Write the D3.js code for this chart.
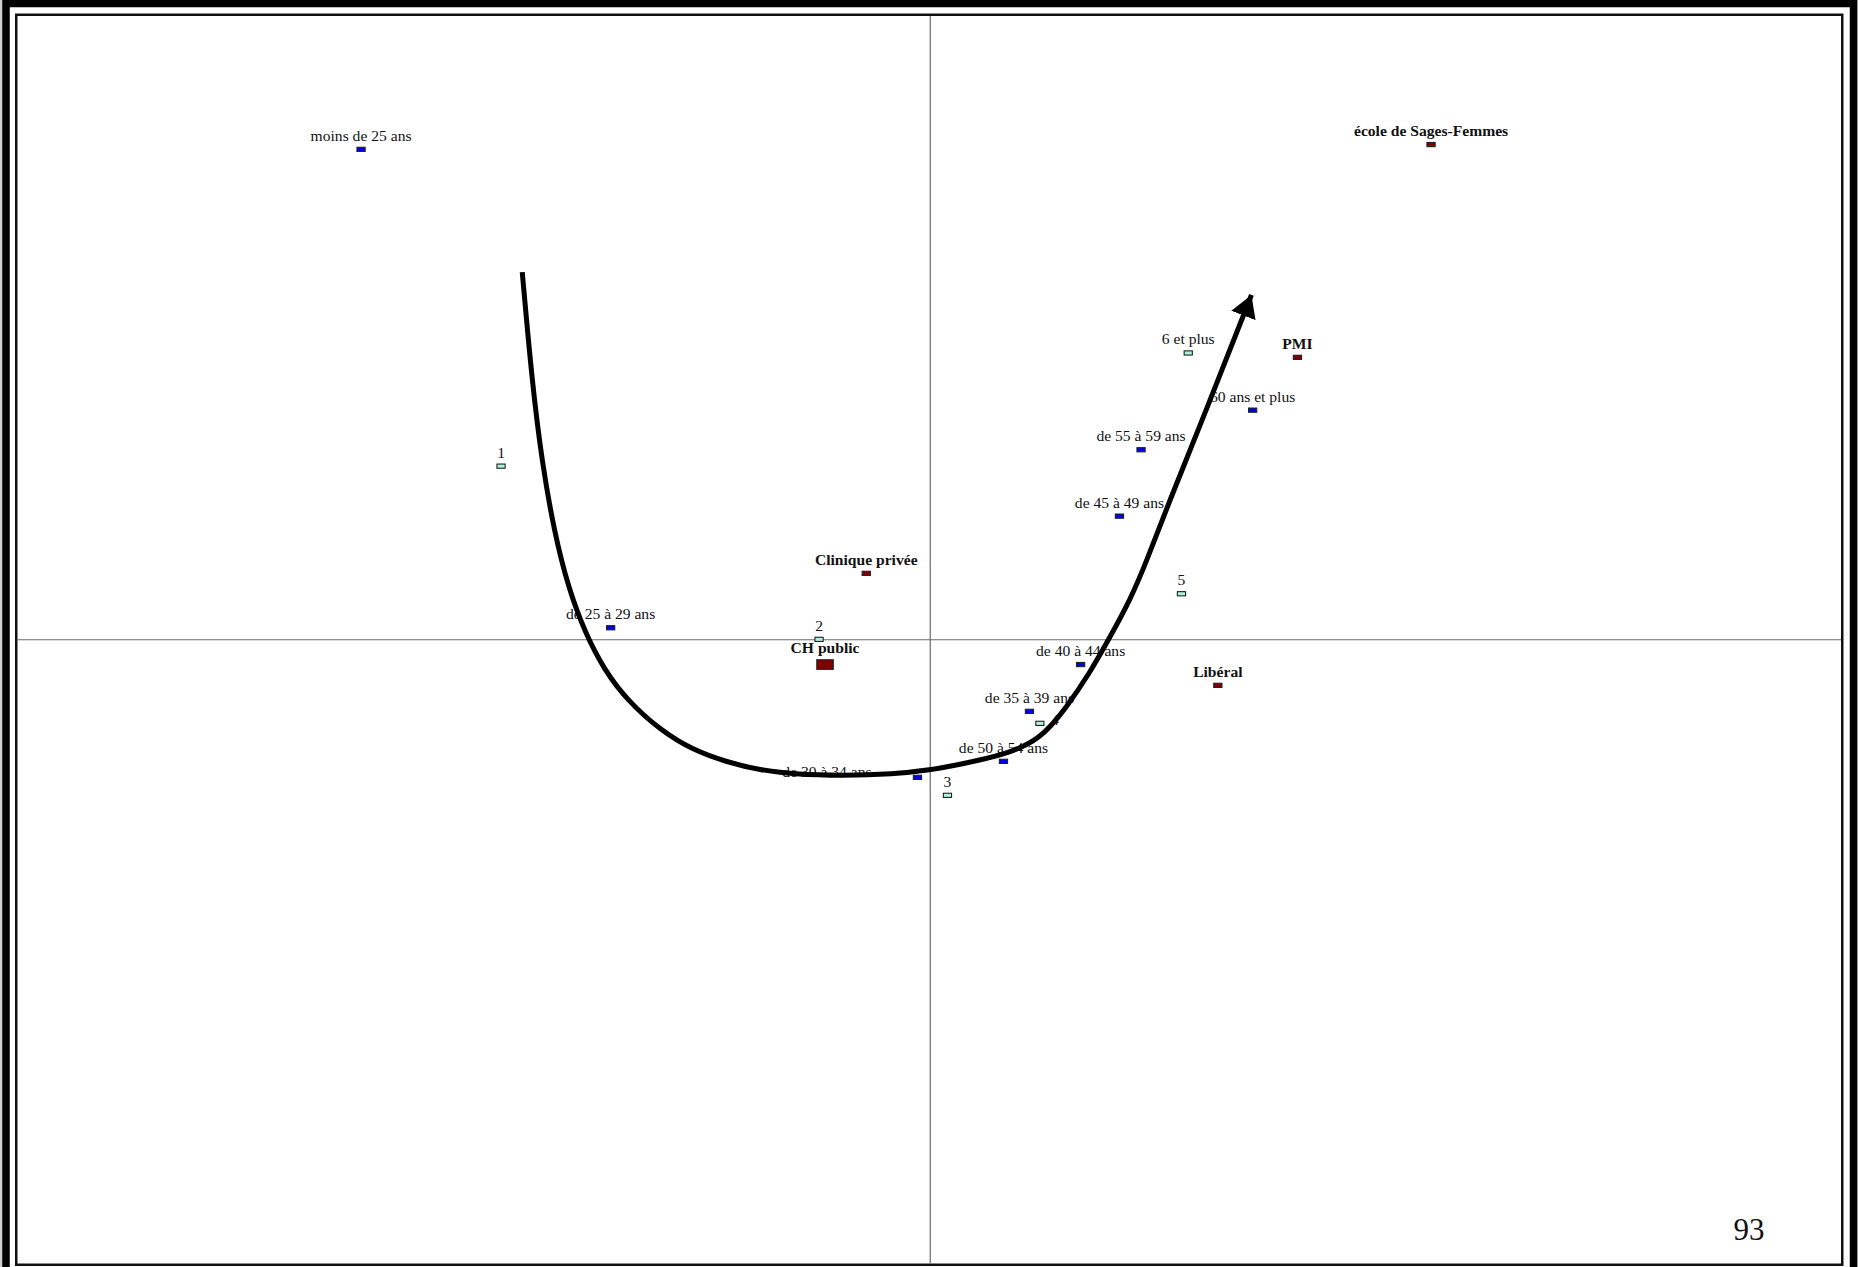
<!DOCTYPE html>
<html>
<head>
<meta charset="utf-8">
<script src="https://cdn.jsdelivr.net/npm/d3@7"></script>
<style>
  body { margin: 0; background: #cfcfcf; }
  svg { display: block; }
</style>
</head>
<body>
<script>
// factor map: first two axes of the correspondence analysis

var ageLabels = ['moins de 25 ans', 'de 25 à 29 ans', 'de 30 à 34 ans', 'de 35 à 39 ans',
  'de 40 à 44 ans', 'de 45 à 49 ans', 'de 50 à 54 ans', 'de 55 à 59 ans', '60 ans et plus'];
var ageX = [-1.423, -0.799, -0.032, 0.248, 0.376, 0.473, 0.183, 0.527, 0.806];
var ageY = [1.226, 0.030, -0.344, -0.179, -0.062, 0.309, -0.304, 0.475, 0.574];

var countLabels = ['1', '2', '3', '4', '5', '6 et plus'];
var countX = [-1.073, -0.278, 0.043, 0.274, 0.628, 0.645];
var countY = [0.434, 0.001, -0.389, -0.209, 0.115, 0.717];

var placeLabels = ['école de Sages-Femmes', 'PMI', 'Clinique privée', 'CH public', 'Libéral'];
var placeX = [1.252, 0.918, -0.160, -0.263, 0.719];
var placeY = [1.238, 0.706, 0.166, -0.062, -0.114];

// trend curve drawn over the map
var curveX = [-1.020, -0.995, -0.970, -0.940, -0.905, -0.862, -0.815, -0.758, -0.675, -0.593,
  -0.508, -0.425, -0.343, -0.218, -0.093, 0.000, 0.075, 0.183, 0.275, 0.340, 0.400, 0.445,
  0.500, 0.542, 0.592, 0.700, 0.803];
var curveY = [0.919, 0.640, 0.440, 0.270, 0.130, 0.015, -0.075, -0.151, -0.226, -0.276,
  -0.306, -0.326, -0.336, -0.340, -0.336, -0.326, -0.311, -0.289, -0.250, -0.170, -0.081, -0.001,
  0.099, 0.199, 0.332, 0.599, 0.862];

var pageNumber = '93';

var width = 1858, height = 1267;

var x = d3.scaleLinear().domain([-2.285, 2.28]).range([16.25, 1842.25]);
var y = d3.scaleLinear().domain([-1.5625, 1.5625]).range([1264.75, 14.75]);

var svg = d3.select('body').append('svg')
  .attr('width', width)
  .attr('height', height);

var x0 = x.range()[0], x1 = x.range()[1];
var y0 = y.range()[1], y1 = y.range()[0];

// page + double frame
svg.append('rect')
  .attr('x', x0 - 10.25).attr('y', y0 - 11.25)
  .attr('width', x1 - x0 + 21.5).attr('height', height + 40)
  .attr('fill', '#fff')
  .attr('stroke', '#000')
  .attr('stroke-width', 7.5);

svg.append('rect')
  .attr('x', x0).attr('y', y0)
  .attr('width', x1 - x0).attr('height', y1 - y0)
  .attr('fill', '#fff')
  .attr('stroke', '#111')
  .attr('stroke-width', 2.5);

// axes through the origin
svg.append('line')
  .attr('x1', x(0)).attr('x2', x(0))
  .attr('y1', y0 + 1.2).attr('y2', y1 - 1.2)
  .attr('stroke', '#6a6a6a').attr('stroke-width', 1.2);
svg.append('line')
  .attr('x1', x0 + 1.2).attr('x2', x1 - 1.2)
  .attr('y1', y(0)).attr('y2', y(0))
  .attr('stroke', '#6a6a6a').attr('stroke-width', 1.2);

var points = [];
ageLabels.forEach(function(d, i) {
  points.push({label: d, x: ageX[i], y: ageY[i], group: 'age'});
});
countLabels.forEach(function(d, i) {
  points.push({label: d, x: countX[i], y: countY[i], group: 'count'});
});
placeLabels.forEach(function(d, i) {
  points.push({label: d, x: placeX[i], y: placeY[i], group: 'place'});
});

var fills = {age: '#0000ee', count: '#aaf2dc', place: '#800000'};

var markW = function(d) { return d.label === 'CH public' ? 16.5 : 8.2; };
var markH = function(d) { return d.label === 'CH public' ? 9.6 : 4.2; };

// labels that were moved off their default place above the marker
var labelShift = {
  'de 30 à 34 ans': [-90.5, 8.5],
  '4': [15, 10.5]
};

svg.selectAll('rect.pt')
  .data(points)
  .enter()
  .append('rect')
  .attr('class', 'pt')
  .attr('x', function(d) { return x(d.x) - markW(d) / 2; })
  .attr('y', function(d) { return y(d.y) - markH(d) / 2; })
  .attr('width', markW)
  .attr('height', markH)
  .attr('fill', function(d) { return fills[d.group]; })
  .attr('stroke', '#222')
  .attr('stroke-width', 1.1);

svg.selectAll('text.lbl')
  .data(points)
  .enter()
  .append('text')
  .attr('class', 'lbl')
  .attr('x', function(d) {
    var s = labelShift[d.label] || [0, 0];
    return x(d.x) + s[0];
  })
  .attr('y', function(d) {
    var s = labelShift[d.label] || [0, 0];
    return y(d.y) - markH(d) / 2 - 6.5 + s[1];
  })
  .attr('text-anchor', 'middle')
  .attr('font-family', '"Liberation Serif", "Times New Roman", serif')
  .attr('font-size', 15.6)
  .attr('font-weight', function(d) { return d.group === 'place' ? 'bold' : 'normal'; })
  .attr('fill', '#111')
  .text(function(d) { return d.label; });

// arrow curve
svg.append('defs').append('marker')
  .attr('id', 'head')
  .attr('markerUnits', 'userSpaceOnUse')
  .attr('viewBox', '0 -14 23 28')
  .attr('refX', 22)
  .attr('refY', 0)
  .attr('markerWidth', 23)
  .attr('markerHeight', 28)
  .attr('orient', 'auto')
  .append('path')
  .attr('d', 'M0,-13L22,0L0,13Z')
  .attr('fill', '#000');

var curvePts = curveX.map(function(v, i) { return [v, curveY[i]]; });

svg.append('path')
  .datum(curvePts)
  .attr('d', d3.line()
    .x(function(d) { return x(d[0]); })
    .y(function(d) { return y(d[1]); })
    .curve(d3.curveBasis))
  .attr('fill', 'none')
  .attr('stroke', '#000')
  .attr('stroke-width', 5)
  .attr('marker-end', 'url(#head)');

// page number
svg.append('text')
  .attr('x', 1749)
  .attr('y', 1240)
  .attr('text-anchor', 'middle')
  .attr('font-family', '"Liberation Serif", "Times New Roman", serif')
  .attr('font-size', 31)
  .attr('fill', '#111')
  .text(pageNumber);
</script>
</body>
</html>
